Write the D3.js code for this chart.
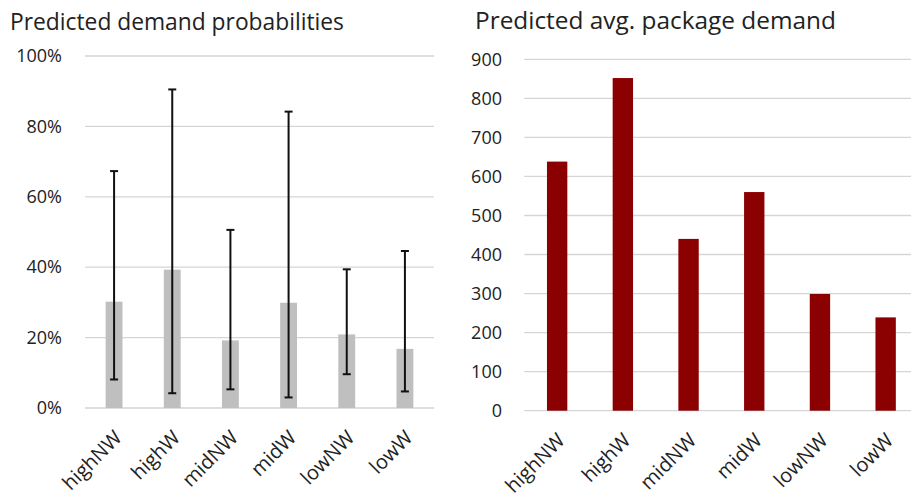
<!DOCTYPE html>
<html>
<head>
<meta charset="utf-8">
<script src="https://cdn.jsdelivr.net/npm/d3@7"></script>
<style>
  html, body { margin: 0; padding: 0; background: #fff; }
  svg { display: block; font-family: "Open Sans", sans-serif; }
</style>
</head>
<body>
<svg id="chart" width="911" height="493"></svg>
<script>
// Segments shown in both panels
const categories = ["highNW", "highW", "midNW", "midW", "lowNW", "lowW"];

// Left panel: predicted demand probability with interval bounds
const probMean = [0.302, 0.393, 0.192, 0.299, 0.209, 0.168];
const probLow  = [0.081, 0.042, 0.053, 0.030, 0.096, 0.047];
const probHigh = [0.673, 0.905, 0.506, 0.842, 0.394, 0.446];
const probTicks = [0, 0.2, 0.4, 0.6, 0.8, 1.0];

// Right panel: predicted average package demand
const demand = [638, 852, 440, 560, 299, 239];
const demandTicks = [0, 100, 200, 300, 400, 500, 600, 700, 800, 900];

const svg = d3.select("#chart");
const textColor = "#222";
const gridColor = "#d5d5d5";

function panel(opts) {
  const g = svg.append("g");
  const x = d3.scaleBand()
    .domain(categories)
    .range([opts.left, opts.right])
    .paddingInner(opts.pad)
    .paddingOuter(opts.pad / 2);
  const y = d3.scaleLinear()
    .domain(opts.domain)
    .range([opts.bottom, opts.top]);

  // title
  g.append("text")
    .attr("x", opts.titleX)
    .attr("y", opts.titleY)
    .attr("fill", textColor)
    .attr("font-size", opts.titleSize)
    .text(opts.title);

  // gridlines
  g.append("g").selectAll("line")
    .data(opts.ticks)
    .join("line")
    .attr("x1", opts.left)
    .attr("x2", opts.gridRight)
    .attr("y1", d => y(d))
    .attr("y2", d => y(d))
    .attr("stroke", gridColor)
    .attr("stroke-width", 1.3);

  // y axis labels
  const yAxis = d3.axisLeft(y).tickValues(opts.ticks).tickFormat(opts.fmt).tickSize(0).tickPadding(0);
  const ya = g.append("g")
    .attr("transform", `translate(${opts.labelX},0)`)
    .call(yAxis);
  ya.select(".domain").remove();
  ya.selectAll("text")
    .attr("fill", textColor)
    .attr("font-size", 18)
    .attr("font-family", "Open Sans, sans-serif");

  // bars
  g.append("g").selectAll("rect")
    .data(categories)
    .join("rect")
    .attr("x", d => x(d))
    .attr("width", x.bandwidth())
    .attr("y", (d, i) => y(opts.values[i]))
    .attr("height", (d, i) => y(0) - y(opts.values[i]))
    .attr("fill", opts.color);

  // x axis labels, rotated
  const xAxis = d3.axisBottom(x).tickSize(0).tickPadding(0);
  const xa = g.append("g")
    .attr("transform", `translate(0,${opts.bottom})`)
    .call(xAxis);
  xa.select(".domain").remove();
  xa.selectAll("text")
    .attr("fill", textColor)
    .attr("font-size", 20)
    .attr("font-family", "Open Sans, sans-serif")
    .attr("text-anchor", "end")
    .attr("dy", 0)
    .attr("y", 0)
    .attr("transform", "translate(9,31) rotate(-45)");

  return { g, x, y };
}

const left = panel({
  left: 85, right: 434, gridRight: 434, top: 56, bottom: 408,
  pad: 0.71, domain: [0, 1], ticks: probTicks,
  fmt: d3.format(".0%"), labelX: 62,
  values: probMean, color: "#bfbfbf",
  title: "Predicted demand probabilities", titleX: 10, titleY: 29.5, titleSize: 22.8
});

// error bars on the probability panel
const eb = left.g.append("g")
  .attr("stroke", "#111")
  .attr("stroke-width", 2);
categories.forEach((c, i) => {
  const cx = left.x(c) + left.x.bandwidth() / 2;
  eb.append("line")
    .attr("x1", cx).attr("x2", cx)
    .attr("y1", left.y(probLow[i])).attr("y2", left.y(probHigh[i]));
  [probLow[i], probHigh[i]].forEach(v => {
    eb.append("line")
      .attr("x1", cx - 4).attr("x2", cx + 4)
      .attr("y1", left.y(v)).attr("y2", left.y(v));
  });
});

panel({
  left: 524.3, right: 918.5, gridRight: 911, top: 59.3, bottom: 410.7,
  pad: 0.69, domain: [0, 900], ticks: demandTicks,
  fmt: d3.format("d"), labelX: 502,
  values: demand, color: "#8b0000",
  title: "Predicted avg. package demand", titleX: 475, titleY: 28.5, titleSize: 24.4
});
</script>
</body>
</html>
